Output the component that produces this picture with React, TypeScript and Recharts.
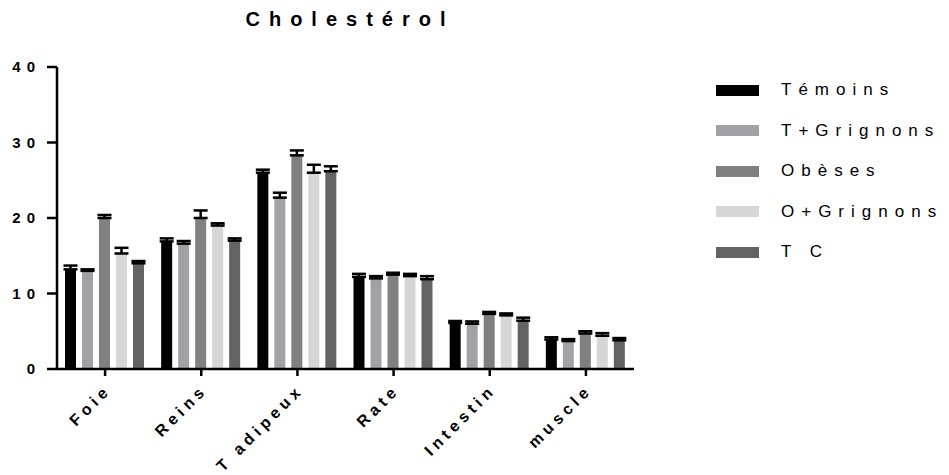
import React from 'react';
import { BarChart, Bar, XAxis, YAxis, ErrorBar } from 'recharts';

// Organs on the x axis
const organs = ['Foie', 'Reins', 'T adipeux', 'Rate', 'Intestin', 'muscle'];

// Mean cholesterol per group, in organ order
const temoins = [13.2, 16.9, 26.0, 12.2, 6.1, 3.9];
const tGrignons = [13.0, 16.6, 22.7, 12.0, 6.0, 3.7];
const obeses = [20.0, 20.0, 28.3, 12.5, 7.3, 4.7];
const oGrignons = [15.3, 19.0, 26.0, 12.3, 7.1, 4.4];
const tc = [14.0, 17.0, 26.2, 11.9, 6.4, 3.8];

// SEM (upper side only)
const temoinsErr = [0.5, 0.4, 0.4, 0.4, 0.26, 0.3];
const tGrignonsErr = [0.2, 0.35, 0.65, 0.3, 0.3, 0.26];
const obesesErr = [0.4, 1.0, 0.65, 0.25, 0.26, 0.3];
const oGrignonsErr = [0.75, 0.3, 1.05, 0.3, 0.26, 0.35];
const tcErr = [0.3, 0.3, 0.65, 0.4, 0.4, 0.3];

const yTicks = [0, 10, 20, 30, 40];

const FONT = '"Liberation Sans", Arial, sans-serif';

const series = [
  { key: 'temoins', name: 'Témoins', color: '#000000', values: temoins, err: temoinsErr },
  { key: 'tGrignons', name: 'T+Grignons', color: '#a1a1a6', values: tGrignons, err: tGrignonsErr },
  { key: 'obeses', name: 'Obèses', color: '#808080', values: obeses, err: obesesErr },
  { key: 'oGrignons', name: 'O+Grignons', color: '#d6d6d6', values: oGrignons, err: oGrignonsErr },
  { key: 'tc', name: 'T C', color: '#636363', values: tc, err: tcErr },
];

const data = organs.map((organ, i) => {
  const row: Record<string, any> = { organ };
  series.forEach(s => {
    row[s.key] = s.values[i];
    row[s.key + 'Err'] = [0, s.err[i]];
  });
  return row;
});

// rotated organ names, ending just right of the tick
const OrganTick = ({ x, y, payload }: any) => (
  <g transform={`translate(${x},${y})`}>
    <text
      x={7}
      y={13}
      textAnchor="end"
      transform="rotate(-45, 7, 13)"
      fontFamily={FONT}
      fontWeight="bold"
      fontSize={16}
      letterSpacing={4.5}
      fill="#000"
    >
      {payload.value}
    </text>
  </g>
);

const ValueTick = ({ x, y, payload }: any) => (
  <text
    x={x - 4}
    y={y}
    dy={5}
    textAnchor="end"
    fontFamily={FONT}
    fontWeight="bold"
    fontSize={15}
    letterSpacing={6}
    fill="#000"
  >
    {payload.value}
  </text>
);

const GroupLegend = () => (
  <div style={{ position: 'absolute', left: 716, top: 70, fontFamily: FONT }}>
    {series.map(s => (
      <div key={s.key} style={{ display: 'flex', alignItems: 'center', height: 40.5 }}>
        <div style={{ width: 43, height: 11, background: s.color, marginRight: 22 }} />
        <span style={{ fontSize: 17, letterSpacing: 7, color: '#000' }}>{s.name}</span>
      </div>
    ))}
  </div>
);

export default function App() {
  return (
    <div style={{ position: 'absolute', left: 0, top: 0, width: 949, height: 475, background: '#fff' }}>
      <div
        style={{
          position: 'absolute',
          left: 0,
          width: 700,
          top: 8,
          textAlign: 'center',
          fontFamily: FONT,
          fontWeight: 'bold',
          fontSize: 20,
          letterSpacing: 9,
        }}
      >
        Cholestérol
      </div>
      <BarChart
        width={949}
        height={475}
        data={data}
        margin={{ top: 67, right: 315, bottom: 0, left: 0 }}
        barCategoryGap={8}
        barGap={6}
      >
        <XAxis
          dataKey="organ"
          height={106}
          axisLine={{ stroke: '#000', strokeWidth: 2.5 }}
          tickLine={{ stroke: '#000', strokeWidth: 2.5 }}
          tickSize={7}
          tick={<OrganTick />}
          interval={0}
        />
        <YAxis
          width={57}
          domain={[0, 40]}
          ticks={yTicks}
          axisLine={{ stroke: '#000', strokeWidth: 2.5 }}
          tickLine={{ stroke: '#000', strokeWidth: 2.5 }}
          tickSize={10}
          tick={<ValueTick />}
        />
        {series.map(s => (
          <Bar key={s.key} dataKey={s.key} name={s.name} fill={s.color} isAnimationActive={false}>
            <ErrorBar dataKey={s.key + 'Err'} width={7} stroke="#000" strokeWidth={2.5} direction="y" />
          </Bar>
        ))}
      </BarChart>
      <GroupLegend />
    </div>
  );
}
